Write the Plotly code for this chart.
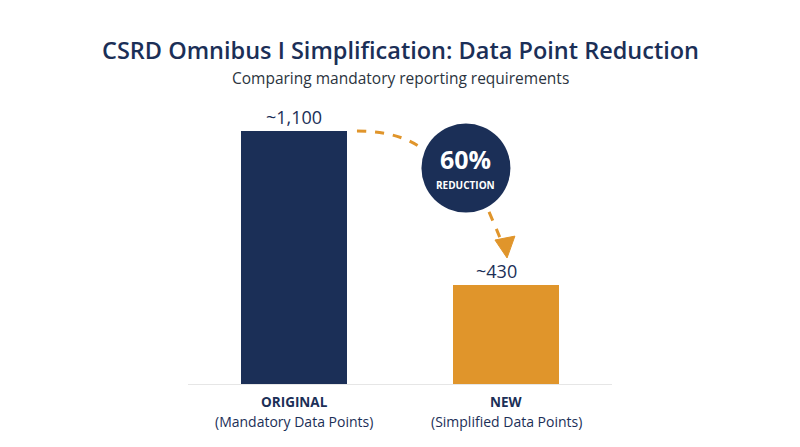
import plotly.graph_objects as go

categories = ["ORIGINAL", "NEW"]
subtitles = ["(Mandatory Data Points)", "(Simplified Data Points)"]
values = [1100, 430]
value_labels = ["~1,100", "~430"]
colors = ["#1b2f57", "#e0952b"]
reduction_text = "60%"
title_text = "CSRD Omnibus I Simplification: Data Point Reduction"
subtitle_text = "Comparing mandatory reporting requirements"

NAVY = "#1b2f57"
ORANGE = "#e0952b"
FONT = "Open Sans"

x_pos = list(range(len(categories)))

fig = go.Figure()
fig.add_trace(go.Bar(
    x=x_pos, y=values, marker=dict(color=colors, line=dict(width=0)),
    width=0.5, hoverinfo="skip",
))

for i, (v, lab) in enumerate(zip(values, value_labels)):
    fig.add_annotation(x=i, y=v, text=lab, showarrow=False, yanchor="bottom",
                       yshift=0, xshift=(0 if i == 0 else -10),
                       font=dict(family=FONT, size=18, color=NAVY))

# category labels
for i, (c, s) in enumerate(zip(categories, subtitles)):
    fig.add_annotation(x=i, y=0, text="<b>" + c + "</b>", showarrow=False,
                       yanchor="middle", yshift=-18,
                       font=dict(family=FONT, size=13.5, color=NAVY))
    fig.add_annotation(x=i, y=0, text=s, showarrow=False,
                       yanchor="middle", yshift=-37,
                       font=dict(family=FONT, size=14, color=NAVY))

# dashed curved arrow
fig.add_shape(type="path", xref="x", yref="y",
              path="M 0.297 1100 Q 0.5 1100 0.613 1017",
              line=dict(color=ORANGE, width=3, dash="dash"))
fig.add_shape(type="path", xref="x", yref="y",
              path="M 0.92 748 Q 0.953 678 0.981 615",
              line=dict(color=ORANGE, width=3, dash="dash"))
fig.add_shape(type="path", xref="x", yref="y",
              path="M 0.948 626 L 1.042 643 L 1.005 548 Z",
              fillcolor=ORANGE, line=dict(color=ORANGE, width=1))

# reduction circle
fig.add_shape(type="circle", xref="x", yref="y", xsizemode="pixel", ysizemode="pixel",
              xanchor=0.811, yanchor=939, x0=-44.5, x1=44.5, y0=-44.5, y1=44.5,
              fillcolor=NAVY, line=dict(color=NAVY, width=0))
fig.add_annotation(x=0.811, y=939, text="<b>" + reduction_text + "</b>", showarrow=False,
                   yshift=9, font=dict(family=FONT, size=25, color="white"))
fig.add_annotation(x=0.811, y=939, text="<b>REDUCTION</b>", showarrow=False,
                   yshift=-17, font=dict(family=FONT, size=10, color="white"))

# titles
fig.add_annotation(xref="paper", yref="paper", x=0.5, y=1, yanchor="middle",
                   yshift=12, text=title_text, showarrow=False,
                   font=dict(family=FONT, size=23.5, color=NAVY, weight=600))
fig.add_annotation(xref="paper", yref="paper", x=0.5, y=1, yanchor="middle",
                   yshift=-16, text=subtitle_text, showarrow=False,
                   font=dict(family=FONT, size=15.5, color="#2b3440"))

fig.update_layout(
    width=800, height=447,
    margin=dict(l=180, r=196, t=54, b=71),
    paper_bgcolor="white", plot_bgcolor="white",
    showlegend=False,
    xaxis=dict(range=[-0.5, 1.5], showticklabels=False,
               showgrid=False, zeroline=False, showline=True,
               linecolor="#e6e6e6", linewidth=1, ticks=""),
    yaxis=dict(range=[0, 1400], visible=False, showgrid=False, zeroline=False),
)

fig.write_html("out.html")
